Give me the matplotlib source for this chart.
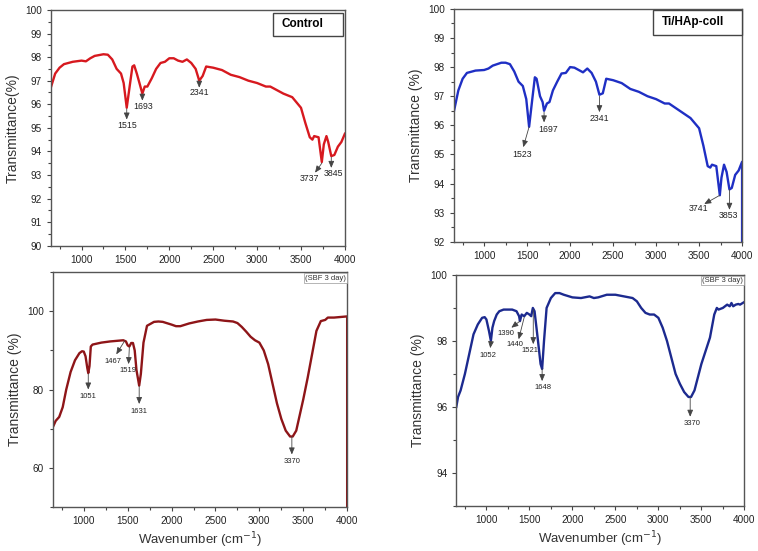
import numpy as np
import matplotlib
matplotlib.use('Agg')
import matplotlib.pyplot as plt
from matplotlib.patches import Rectangle
from matplotlib.ticker import MultipleLocator, AutoMinorLocator

plt.rcParams['font.family'] = ['Liberation Sans', 'DejaVu Sans']

# --- spectra (wavenumber, transmittance) ---
wn_control = [650, 700, 750, 800, 900, 1000, 1050, 1100, 1150, 1250, 1300, 1350, 1400, 1450, 1480,
              1515, 1550, 1580, 1600, 1630, 1660, 1693, 1720, 1750, 1800, 1850, 1900, 1950, 2000,
              2050, 2100, 2150, 2200, 2250, 2300, 2341, 2380, 2420, 2500, 2600, 2700, 2800, 2900,
              3000, 3100, 3150, 3200, 3300, 3400, 3500, 3550, 3600, 3630, 3650, 3700, 3737, 3760,
              3790, 3810, 3845, 3880, 3920, 3960, 4000]
tr_control = [96.7, 97.3, 97.55, 97.7, 97.8, 97.85, 97.82, 97.95, 98.05, 98.12, 98.1, 97.9, 97.5, 97.3, 96.9,
              95.85, 96.8, 97.6, 97.65, 97.3, 96.9, 96.45, 96.75, 96.75, 97.1, 97.5, 97.75, 97.8, 97.95,
              97.95, 97.85, 97.8, 97.9, 97.75, 97.5, 97.0, 97.2, 97.6, 97.55, 97.45, 97.25, 97.15, 97.0,
              96.9, 96.75, 96.75, 96.65, 96.45, 96.3, 95.85, 95.2, 94.6, 94.5, 94.65, 94.6, 93.55, 94.3,
              94.65, 94.4, 93.8, 93.85, 94.2, 94.4, 94.75]

wn_coll = [650, 700, 750, 800, 900, 1000, 1050, 1100, 1200, 1250, 1300, 1350, 1400, 1450, 1490,
           1523, 1560, 1590, 1610, 1650, 1680, 1697, 1730, 1760, 1800, 1850, 1900, 1950, 2000,
           2050, 2100, 2150, 2200, 2250, 2300, 2341, 2380, 2420, 2500, 2600, 2700, 2800, 2900,
           3000, 3100, 3150, 3200, 3300, 3400, 3500, 3550, 3600, 3630, 3650, 3700, 3741, 3760,
           3790, 3820, 3853, 3880, 3920, 3960, 4000, 4000]
tr_coll = [96.5, 97.2, 97.6, 97.8, 97.88, 97.9, 97.95, 98.05, 98.15, 98.15, 98.1, 97.85, 97.5, 97.35, 96.9,
           95.95, 96.9, 97.65, 97.6, 97.0, 96.8, 96.5, 96.75, 96.8, 97.2, 97.5, 97.78, 97.8, 98.0,
           97.98, 97.9, 97.82, 97.95, 97.8, 97.5, 97.05, 97.1, 97.6, 97.55, 97.45, 97.25, 97.15, 97.0,
           96.9, 96.75, 96.75, 96.65, 96.45, 96.25, 95.9, 95.3, 94.6, 94.55, 94.65, 94.6, 93.6, 94.2,
           94.65, 94.4, 93.8, 93.85, 94.3, 94.45, 94.75, 91.9]

wn_control_sbf = [650, 680, 720, 760, 800, 850, 900, 950, 980, 1000, 1020, 1040, 1051, 1065, 1080,
                  1100, 1200, 1300, 1400, 1450, 1480, 1500, 1519, 1540, 1560, 1580, 1600, 1631, 1650,
                  1680, 1720, 1800, 1850, 1900, 2000, 2050, 2100, 2200, 2300, 2400, 2500, 2600, 2700,
                  2750, 2800, 2850, 2900, 2950, 3000, 3050, 3100, 3150, 3200, 3250, 3300, 3350, 3380,
                  3420, 3450, 3500, 3550, 3600, 3650, 3700, 3750, 3780, 3850, 3900, 4000, 4000]
tr_control_sbf = [70.5, 72, 73, 75.5, 80, 84.5, 87.5, 89.3, 89.8, 89.7, 88.5, 85.5, 84.2, 86, 91.0,
                  91.5, 92, 92.3, 92.5, 92.6, 92.3, 91.3, 91.0, 91.9, 91.9, 90, 85, 81, 84,
                  92, 96.3, 97.3, 97.4, 97.3, 96.6, 96.2, 96.2, 96.9, 97.4, 97.8, 97.9, 97.6, 97.4,
                  97.0, 96.0, 94.8, 93.5, 92.6, 92.0, 90.0, 86.5, 81.5, 76.5, 72.5, 69.5, 68.0, 68.0,
                  69.5, 72.5, 77.5, 83, 89, 95, 97.5, 97.8, 98.4, 98.4, 98.5, 98.7, 50]

wn_coll_sbf = [650, 670, 700, 750, 800, 850, 900, 950, 980, 1000, 1030, 1052, 1070, 1090, 1120,
               1150, 1200, 1300, 1350, 1380, 1390, 1410, 1440, 1470, 1500, 1521, 1540, 1560, 1600,
               1630, 1648, 1670, 1700, 1750, 1800, 1850, 1900, 2000, 2100, 2200, 2250, 2300, 2400,
               2500, 2600, 2700, 2750, 2800, 2850, 2900, 2950, 3000, 3050, 3100, 3150, 3200, 3250,
               3300, 3350, 3380, 3420, 3450, 3500, 3550, 3600, 3650, 3680, 3700, 3750, 3800, 3830,
               3850, 3870, 3900, 3930, 3950, 4000]
tr_coll_sbf = [96.0, 96.3, 96.5, 97.0, 97.6, 98.2, 98.5, 98.7, 98.72, 98.65, 98.3, 98.0, 98.4, 98.6, 98.8,
               98.9, 98.95, 98.95, 98.9, 98.75, 98.6, 98.8, 98.75, 98.85, 98.8, 98.75, 99.0, 98.9, 98.0,
               97.3, 97.15, 98.0, 99.0, 99.3, 99.45, 99.45, 99.4, 99.32, 99.3, 99.35, 99.3, 99.32, 99.4,
               99.4, 99.35, 99.3, 99.2, 99.0, 98.85, 98.8, 98.8, 98.7, 98.4, 98.0, 97.5, 97.0, 96.7,
               96.45, 96.3, 96.3, 96.5, 96.8, 97.3, 97.7, 98.1, 98.8, 99.0, 98.95, 99.0, 99.1, 99.05,
               99.15, 99.05, 99.1, 99.12, 99.1, 99.18]

# peak labels: (text, curve x, curve y, arrow-head x, arrow-head y, label x, label y)
peaks_control = [('1515', 1515, 95.8, 1515, 95.35, 1515, 95.1),
                 ('1693', 1693, 96.4, 1693, 96.15, 1700, 95.9),
                 ('2341', 2341, 96.95, 2341, 96.7, 2341, 96.5),
                 ('3737', 3737, 93.5, 3660, 93.1, 3600, 92.85),
                 ('3845', 3845, 93.75, 3845, 93.3, 3870, 93.05)]
peaks_coll = [('1523', 1523, 95.95, 1455, 95.25, 1440, 95.0),
              ('1697', 1697, 96.45, 1697, 96.1, 1745, 95.85),
              ('2341', 2341, 97.0, 2341, 96.45, 2341, 96.25),
              ('3741', 3741, 93.6, 3560, 93.3, 3490, 93.15),
              ('3853', 3853, 93.8, 3853, 93.1, 3845, 92.9)]
peaks_control_sbf = [('1051', 1051, 84.0, 1051, 80.0, 1051, 78.3),
                     ('1467', 1467, 92.5, 1370, 89.0, 1330, 87.2),
                     ('1519', 1519, 90.8, 1510, 86.5, 1505, 84.8),
                     ('1631', 1631, 80.8, 1631, 76.3, 1631, 74.5),
                     ('3370', 3370, 68.0, 3370, 63.4, 3370, 61.6)]
peaks_coll_sbf = [('1052', 1052, 97.95, 1045, 97.78, 1020, 97.55),
                  ('1390', 1390, 98.6, 1290, 98.4, 1230, 98.22),
                  ('1440', 1440, 98.72, 1375, 98.05, 1335, 97.9),
                  ('1521', 1545, 98.95, 1545, 97.9, 1505, 97.72),
                  ('1648', 1648, 97.15, 1648, 96.78, 1655, 96.6),
                  ('3370', 3370, 96.3, 3370, 95.7, 3390, 95.5)]

fig = plt.figure(figsize=(7.58, 5.51), dpi=100)

panels = [
    # rect, x, y, colour, ylim, major, minor, ylabel, xlabel, box text, box rect (axes frac), peaks
    ([0.067, 0.554, 0.388, 0.428], wn_control, tr_control, '#d7191f', (90, 100), 1, 2,
     'Transmittance(%)', False, 'Control', (0.755, 0.89, 0.238, 0.097), peaks_control),
    ([0.599, 0.561, 0.380, 0.423], wn_coll, tr_coll, '#1f2fc4', (92, 100), 1, 2,
     'Transmittance (%)', False, 'Ti/HAp-coll', (0.691, 0.888, 0.309, 0.108), peaks_coll),
    ([0.070, 0.080, 0.388, 0.426], wn_control_sbf, tr_control_sbf, '#8e1518', (50, 110), 20, 2,
     'Transmittance (%)', True, '(SBF 3 day)', None, peaks_control_sbf),
    ([0.602, 0.082, 0.380, 0.419], wn_coll_sbf, tr_coll_sbf, '#1c2a8f', (93, 100), 2, 2,
     'Transmittance (%)', True, '(SBF 3 day)', None, peaks_coll_sbf),
]

for rect, xs, ys, col, ylim, major, nminor, ylab, show_x, box, box_rect, peaks in panels:
    ax = fig.add_axes(rect)
    ax.plot(xs, ys, color=col, lw=1.7)
    ax.set_xlim(650, 4000)
    ax.set_ylim(*ylim)
    ax.xaxis.set_major_locator(MultipleLocator(500))
    ax.xaxis.set_minor_locator(AutoMinorLocator(2))
    ax.yaxis.set_major_locator(MultipleLocator(major))
    ax.yaxis.set_minor_locator(AutoMinorLocator(nminor))
    ax.tick_params(which='both', direction='out', labelsize=7.2, color='#444444', width=0.8,
                   labelcolor='#222222')
    ax.tick_params(which='major', length=3)
    ax.tick_params(which='minor', length=2)
    for s in ax.spines.values():
        s.set_color('#555555')
        s.set_linewidth(1.0)
    ax.set_ylabel(ylab, fontsize=10, color='#333333', labelpad=4)
    if show_x:
        ax.set_xlabel('Wavenumber (cm$^{-1}$)', fontsize=9.5, color='#333333', labelpad=3)

    if box_rect is None:
        ax.text(0.995, 0.99, box, transform=ax.transAxes, ha='right', va='top', fontsize=5.5,
                color='#333333', bbox=dict(boxstyle='square,pad=0.15', fc='white', ec='#999999', lw=0.5))
    else:
        bx, by, bw, bh = box_rect
        ax.add_patch(Rectangle((bx, by), bw, bh, transform=ax.transAxes, fc='white',
                               ec='#444444', lw=1.0, zorder=5, clip_on=False))
        ax.text(bx + 0.03, by + bh / 2, box, transform=ax.transAxes, ha='left', va='center',
                fontsize=8.5, fontweight='bold', color='black', zorder=6)

    small = 5.5 if show_x else 6.3
    for label, cx, cy, hx, hy, lx, ly in peaks:
        ax.annotate('', xy=(hx, hy), xytext=(cx, cy),
                    arrowprops=dict(arrowstyle='-|>,head_length=0.4,head_width=0.17',
                                    color='#444444', lw=0.6, shrinkA=0, shrinkB=0))
        ax.text(lx, ly, label, ha='center', va='center', fontsize=small, color='#222222')

fig.savefig('out.png', dpi=100)
